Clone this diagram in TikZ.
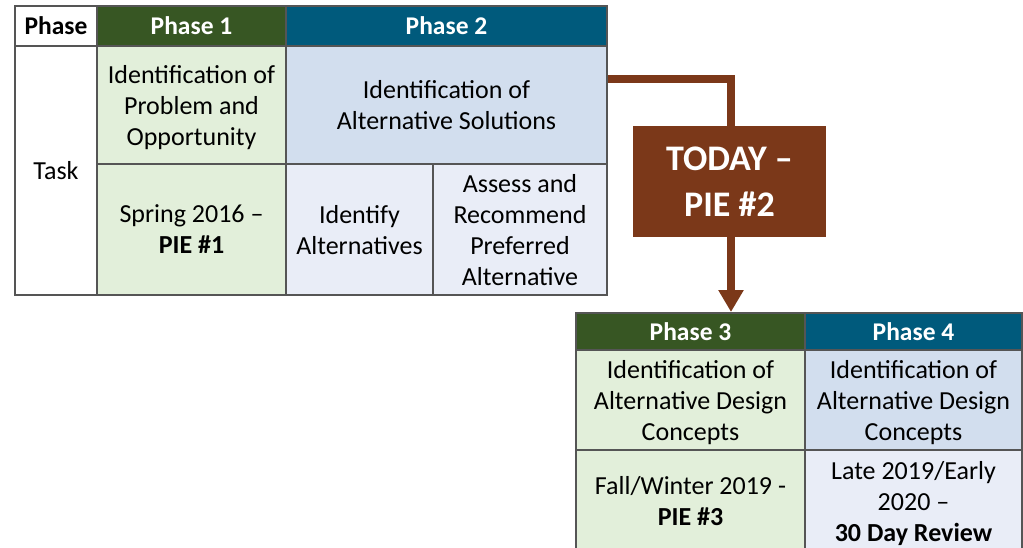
\documentclass[tikz,border=0pt]{standalone}
\usepackage{fontspec}
\setmainfont{Carlito}
\usetikzlibrary{arrows.meta}
\definecolor{hgreen}{HTML}{375623}
\definecolor{hblue}{HTML}{005A7C}
\definecolor{lgreen}{HTML}{E2EFDA}
\definecolor{lblue}{HTML}{D2DEEE}
\definecolor{llblue}{HTML}{E9EDF7}
\definecolor{brn}{HTML}{7B3819}
\definecolor{bord}{HTML}{555555}
\tikzset{
  cell/.style={draw=bord, line width=1.2pt, inner sep=0pt, align=center, text depth=0pt, font=\fontsize{26}{31}\selectfont},
  hcell/.style={cell, text=white, font=\fontsize{25.5}{31}\selectfont\bfseries},
  today/.style={fill=brn, draw=none, text=white, align=center, inner sep=0pt, font=\fontsize{36}{46}\selectfont\bfseries},
  conn/.style={draw=brn, line width=8pt, line join=miter},
}
\begin{document}
\begin{tikzpicture}[x=1pt,y=-1pt]
\useasboundingbox (0,0) rectangle (1023,547);
\begin{scope}
\clip (0,0) rectangle (1023,547);
% top table
\node[cell, fill=white, minimum width=82pt, minimum height=40pt, font=\fontsize{25.5}{31}\selectfont\bfseries] (phaseh) at (56,26) {Phase};
\node[hcell, fill=hgreen, minimum width=189pt, minimum height=40pt] (p1h) at (191.5,26) {Phase 1};
\node[hcell, fill=hblue, minimum width=321pt, minimum height=40pt] (p2h) at (446.5,26) {Phase 2};
\node[cell, fill=white, minimum width=82pt, minimum height=249pt] (task) at (56,170.5) {Task};
\node[cell, fill=lgreen, minimum width=189pt, minimum height=118pt] (p1a) at (191.5,105) {Identification of\\Problem and\\Opportunity};
\node[cell, fill=lgreen, minimum width=189pt, minimum height=131pt] (p1b) at (191.5,229.5) {Spring 2016 --\\\textbf{PIE \#1}};
\node[cell, fill=lblue, minimum width=321pt, minimum height=118pt] (p2a) at (446.5,105) {Identification of\\Alternative Solutions};
\node[cell, fill=llblue, minimum width=147pt, minimum height=131pt] (p2b) at (359.5,229.5) {Identify\\Alternatives};
\node[cell, fill=llblue, minimum width=174pt, minimum height=131pt] (p2c) at (520,229.5) {Assess and\\Recommend\\Preferred\\Alternative};
% today box
\node[today, minimum width=193pt, minimum height=111pt] (today) at (729.5,181.5) {TODAY --\\PIE \#2};
\coordinate (bend) at (731,79);
\draw[conn] (p2a.east |- bend) -- (bend) -- (bend |- today.north);
% bottom table
\node[hcell, fill=hgreen, minimum width=229pt, minimum height=37pt] (p3h) at (690.5,331.5) {Phase 3};
\node[hcell, fill=hblue, minimum width=217pt, minimum height=37pt] (p4h) at (913.5,331.5) {Phase 4};
\node[cell, fill=lgreen, minimum width=229pt, minimum height=100pt] (p3a) at (690.5,400) {Identification of\\Alternative Design\\Concepts};
\node[cell, fill=lblue, minimum width=217pt, minimum height=100pt] (p4a) at (913.5,400) {Identification of\\Alternative Design\\Concepts};
\node[cell, fill=lgreen, minimum width=229pt, minimum height=102pt] (p3b) at (690.5,501) {Fall/Winter 2019 -\\\textbf{PIE \#3}};
\node[cell, fill=llblue, minimum width=217pt, minimum height=102pt] (p4b) at (913.5,501) {Late 2019/Early\\2020 --\\\textbf{30 Day Review}};
\coordinate (tip) at (731,312);
\draw[conn, -{Triangle[width=24pt,length=22pt]}] (today.south -| tip) -- (tip);
\end{scope}
\end{tikzpicture}
\end{document}
